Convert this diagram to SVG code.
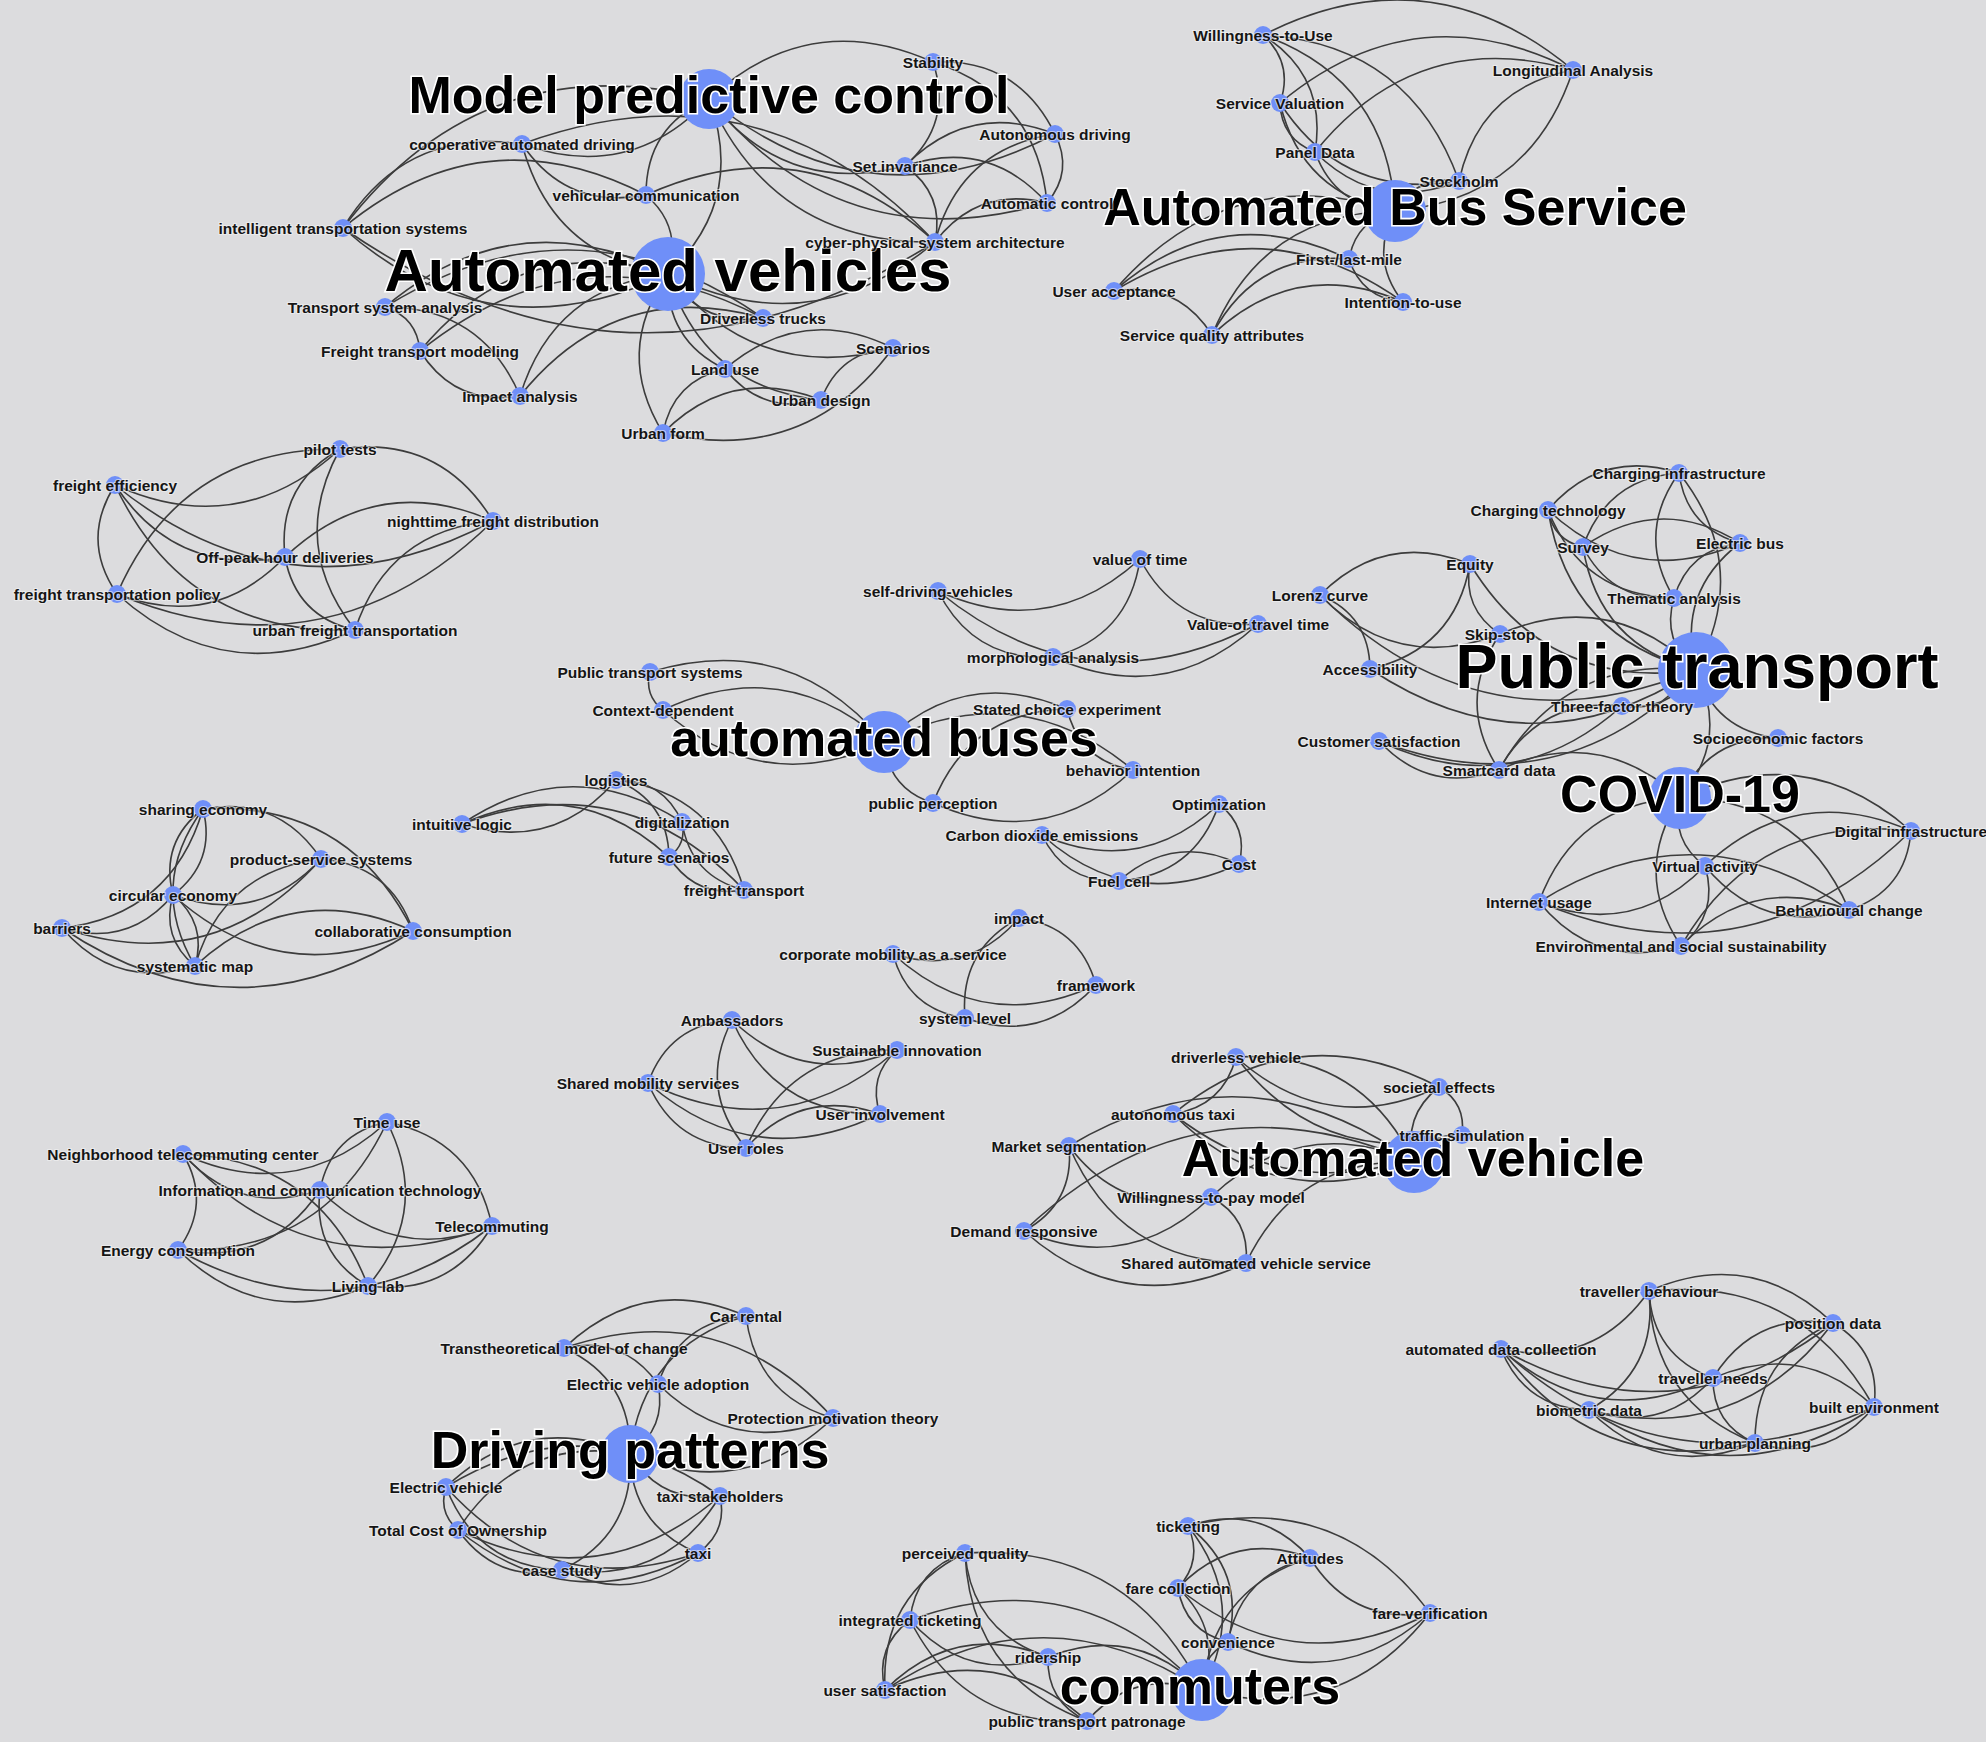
<svg xmlns="http://www.w3.org/2000/svg" width="1986" height="1742" viewBox="0 0 1986 1742">
<style>
#edges path{fill:none;stroke:#3c3c3c;stroke-width:1.6;vector-effect:non-scaling-stroke}
.nd circle{fill:#6f8ff8}
.nd text{font-family:"Liberation Sans",Arial,sans-serif;font-weight:bold;text-anchor:middle;dominant-baseline:central;paint-order:stroke}
.s{font-size:15.5px;fill:#151515;stroke:#f4f4f4;stroke-opacity:.6;stroke-width:2.2}
.b{fill:#000;stroke:#fff;stroke-width:3.2}
</style>
<rect width="1986" height="1742" fill="#dcdcde"/>
<g id="edges">
<path d="M0 0Q.5 .33 1 0" transform="matrix(-224 37 -37 -224 933 62)"/>
<path d="M0 0Q.5 .33 1 0" transform="matrix(346 35 -35 346 709 99)"/>
<path d="M0 0Q.5 .33 1 0" transform="matrix(196 67 -67 196 709 99)"/>
<path d="M0 0Q.5 .33 1 0" transform="matrix(226 143 -143 226 709 99)"/>
<path d="M0 0Q.5 .33 1 0" transform="matrix(338 104 -104 338 709 99)"/>
<path d="M0 0Q.5 .33 1 0" transform="matrix(28 -104 104 28 905 166)"/>
<path d="M0 0Q.5 .33 1 0" transform="matrix(-122 -72 72 -122 1055 134)"/>
<path d="M0 0Q.5 .33 1 0" transform="matrix(-114 -141 141 -114 1047 203)"/>
<path d="M0 0Q.5 .33 1 0" transform="matrix(-150 32 -32 -150 1055 134)"/>
<path d="M0 0Q.5 .33 1 0" transform="matrix(-142 -37 37 -142 1047 203)"/>
<path d="M0 0Q.5 .33 1 0" transform="matrix(-30 -76 76 -30 935 242)"/>
<path d="M0 0Q.5 .33 1 0" transform="matrix(8 -69 69 8 1047 203)"/>
<path d="M0 0Q.5 .33 1 0" transform="matrix(-120 108 -108 -120 1055 134)"/>
<path d="M0 0Q.5 .33 1 0" transform="matrix(-112 39 -39 -112 1047 203)"/>
<path d="M0 0Q.5 .33 1 0" transform="matrix(-179 84 -84 -179 522 144)"/>
<path d="M0 0Q.5 .33 1 0" transform="matrix(-366 129 -129 -366 709 99)"/>
<path d="M0 0Q.5 .33 1 0" transform="matrix(-303 33 -33 -303 646 195)"/>
<path d="M0 0Q.5 .33 1 0" transform="matrix(325 46 -46 325 343 228)"/>
<path d="M0 0Q.5 .33 1 0" transform="matrix(592 14 -14 592 343 228)"/>
<path d="M0 0Q.5 .33 1 0" transform="matrix(124 51 -51 124 522 144)"/>
<path d="M0 0Q.5 .33 1 0" transform="matrix(187 -45 45 187 522 144)"/>
<path d="M0 0Q.5 .33 1 0" transform="matrix(146 130 -130 146 522 144)"/>
<path d="M0 0Q.5 .33 1 0" transform="matrix(-413 -98 98 -413 935 242)"/>
<path d="M0 0Q.5 .33 1 0" transform="matrix(-63 96 -96 -63 709 99)"/>
<path d="M0 0Q.5 .33 1 0" transform="matrix(-22 -79 79 -22 668 274)"/>
<path d="M0 0Q.5 .33 1 0" transform="matrix(-289 -47 47 -289 935 242)"/>
<path d="M0 0Q.5 .33 1 0" transform="matrix(41 -175 175 41 668 274)"/>
<path d="M0 0Q.5 .33 1 0" transform="matrix(267 -32 32 267 668 274)"/>
<path d="M0 0Q.5 .33 1 0" transform="matrix(-283 33 -33 -283 668 274)"/>
<path d="M0 0Q.5 .33 1 0" transform="matrix(-248 77 -77 -248 668 274)"/>
<path d="M0 0Q.5 .33 1 0" transform="matrix(-148 122 -122 -148 668 274)"/>
<path d="M0 0Q.5 .33 1 0" transform="matrix(-243 78 -78 -243 763 318)"/>
<path d="M0 0Q.5 .33 1 0" transform="matrix(-35 -44 44 -35 420 351)"/>
<path d="M0 0Q.5 .33 1 0" transform="matrix(-135 -89 89 -135 520 396)"/>
<path d="M0 0Q.5 .33 1 0" transform="matrix(100 45 -45 100 420 351)"/>
<path d="M0 0Q.5 .33 1 0" transform="matrix(-378 -11 11 -378 763 318)"/>
<path d="M0 0Q.5 .33 1 0" transform="matrix(-343 33 -33 -343 763 318)"/>
<path d="M0 0Q.5 .33 1 0" transform="matrix(95 44 -44 95 668 274)"/>
<path d="M0 0Q.5 .33 1 0" transform="matrix(57 95 -95 57 668 274)"/>
<path d="M0 0Q.5 .33 1 0" transform="matrix(-5 159 -159 -5 668 274)"/>
<path d="M0 0Q.5 .33 1 0" transform="matrix(153 126 -126 153 668 274)"/>
<path d="M0 0Q.5 .33 1 0" transform="matrix(225 74 -74 225 668 274)"/>
<path d="M0 0Q.5 .33 1 0" transform="matrix(-62 64 -64 -62 725 369)"/>
<path d="M0 0Q.5 .33 1 0" transform="matrix(96 31 -31 96 725 369)"/>
<path d="M0 0Q.5 .33 1 0" transform="matrix(-168 21 -21 -168 893 348)"/>
<path d="M0 0Q.5 .33 1 0" transform="matrix(-158 33 -33 -158 821 400)"/>
<path d="M0 0Q.5 .33 1 0" transform="matrix(230 -85 85 230 663 433)"/>
<path d="M0 0Q.5 .33 1 0" transform="matrix(-72 52 -52 -72 893 348)"/>
<path d="M0 0Q.5 .33 1 0" transform="matrix(-310 -35 35 -310 1573 70)"/>
<path d="M0 0Q.5 .33 1 0" transform="matrix(-17 -68 68 -17 1280 103)"/>
<path d="M0 0Q.5 .33 1 0" transform="matrix(-52 -117 117 -52 1315 152)"/>
<path d="M0 0Q.5 .33 1 0" transform="matrix(-196 -146 146 -196 1459 181)"/>
<path d="M0 0Q.5 .33 1 0" transform="matrix(-132 -176 176 -132 1395 211)"/>
<path d="M0 0Q.5 .33 1 0" transform="matrix(-293 33 -33 -293 1573 70)"/>
<path d="M0 0Q.5 .33 1 0" transform="matrix(-258 82 -82 -258 1573 70)"/>
<path d="M0 0Q.5 .33 1 0" transform="matrix(-114 111 -111 -114 1573 70)"/>
<path d="M0 0Q.5 .33 1 0" transform="matrix(178 -141 141 178 1395 211)"/>
<path d="M0 0Q.5 .33 1 0" transform="matrix(35 49 -49 35 1280 103)"/>
<path d="M0 0Q.5 .33 1 0" transform="matrix(179 78 -78 179 1280 103)"/>
<path d="M0 0Q.5 .33 1 0" transform="matrix(115 108 -108 115 1280 103)"/>
<path d="M0 0Q.5 .33 1 0" transform="matrix(144 29 -29 144 1315 152)"/>
<path d="M0 0Q.5 .33 1 0" transform="matrix(80 59 -59 80 1315 152)"/>
<path d="M0 0Q.5 .33 1 0" transform="matrix(-64 30 -30 -64 1459 181)"/>
<path d="M0 0Q.5 .33 1 0" transform="matrix(-281 80 -80 -281 1395 211)"/>
<path d="M0 0Q.5 .33 1 0" transform="matrix(-183 124 -124 -183 1395 211)"/>
<path d="M0 0Q.5 .33 1 0" transform="matrix(-46 48 -48 -46 1395 211)"/>
<path d="M0 0Q.5 .33 1 0" transform="matrix(8 91 -91 8 1395 211)"/>
<path d="M0 0Q.5 .33 1 0" transform="matrix(-98 -44 44 -98 1212 335)"/>
<path d="M0 0Q.5 .33 1 0" transform="matrix(-235 32 -32 -235 1349 259)"/>
<path d="M0 0Q.5 .33 1 0" transform="matrix(-289 -11 11 -289 1403 302)"/>
<path d="M0 0Q.5 .33 1 0" transform="matrix(-137 76 -76 -137 1349 259)"/>
<path d="M0 0Q.5 .33 1 0" transform="matrix(-191 33 -33 -191 1403 302)"/>
<path d="M0 0Q.5 .33 1 0" transform="matrix(54 43 -43 54 1349 259)"/>
<path d="M0 0Q.5 .33 1 0" transform="matrix(225 -36 36 225 115 485)"/>
<path d="M0 0Q.5 .33 1 0" transform="matrix(378 36 -36 378 115 485)"/>
<path d="M0 0Q.5 .33 1 0" transform="matrix(170 72 -72 170 115 485)"/>
<path d="M0 0Q.5 .33 1 0" transform="matrix(2 109 -109 2 115 485)"/>
<path d="M0 0Q.5 .33 1 0" transform="matrix(240 145 -145 240 115 485)"/>
<path d="M0 0Q.5 .33 1 0" transform="matrix(-153 -72 72 -153 493 521)"/>
<path d="M0 0Q.5 .33 1 0" transform="matrix(-55 108 -108 -55 340 449)"/>
<path d="M0 0Q.5 .33 1 0" transform="matrix(-223 145 -145 -223 340 449)"/>
<path d="M0 0Q.5 .33 1 0" transform="matrix(15 181 -181 15 340 449)"/>
<path d="M0 0Q.5 .33 1 0" transform="matrix(-208 36 -36 -208 493 521)"/>
<path d="M0 0Q.5 .33 1 0" transform="matrix(376 -73 73 376 117 594)"/>
<path d="M0 0Q.5 .33 1 0" transform="matrix(-138 109 -109 -138 493 521)"/>
<path d="M0 0Q.5 .33 1 0" transform="matrix(168 -37 37 168 117 594)"/>
<path d="M0 0Q.5 .33 1 0" transform="matrix(70 73 -73 70 285 557)"/>
<path d="M0 0Q.5 .33 1 0" transform="matrix(238 36 -36 238 117 594)"/>
<path d="M0 0Q.5 .33 1 0" transform="matrix(-131 37 -37 -131 1679 473)"/>
<path d="M0 0Q.5 .33 1 0" transform="matrix(-96 74 -74 -96 1679 473)"/>
<path d="M0 0Q.5 .33 1 0" transform="matrix(61 70 -70 61 1679 473)"/>
<path d="M0 0Q.5 .33 1 0" transform="matrix(-5 125 -125 -5 1679 473)"/>
<path d="M0 0Q.5 .33 1 0" transform="matrix(-17 -197 197 -17 1696 670)"/>
<path d="M0 0Q.5 .33 1 0" transform="matrix(35 37 -37 35 1548 510)"/>
<path d="M0 0Q.5 .33 1 0" transform="matrix(192 33 -33 192 1548 510)"/>
<path d="M0 0Q.5 .33 1 0" transform="matrix(126 88 -88 126 1548 510)"/>
<path d="M0 0Q.5 .33 1 0" transform="matrix(148 160 -160 148 1548 510)"/>
<path d="M0 0Q.5 .33 1 0" transform="matrix(-157 4 -4 -157 1740 543)"/>
<path d="M0 0Q.5 .33 1 0" transform="matrix(91 51 -51 91 1583 547)"/>
<path d="M0 0Q.5 .33 1 0" transform="matrix(113 123 -123 113 1583 547)"/>
<path d="M0 0Q.5 .33 1 0" transform="matrix(-66 55 -55 -66 1740 543)"/>
<path d="M0 0Q.5 .33 1 0" transform="matrix(-44 127 -127 -44 1740 543)"/>
<path d="M0 0Q.5 .33 1 0" transform="matrix(22 72 -72 22 1674 598)"/>
<path d="M0 0Q.5 .33 1 0" transform="matrix(-150 31 -31 -150 1470 564)"/>
<path d="M0 0Q.5 .33 1 0" transform="matrix(-50 -74 74 -50 1370 669)"/>
<path d="M0 0Q.5 .33 1 0" transform="matrix(376 75 -75 376 1320 595)"/>
<path d="M0 0Q.5 .33 1 0" transform="matrix(100 -105 105 100 1370 669)"/>
<path d="M0 0Q.5 .33 1 0" transform="matrix(226 106 -106 226 1470 564)"/>
<path d="M0 0Q.5 .33 1 0" transform="matrix(326 1 -1 326 1370 669)"/>
<path d="M0 0Q.5 .33 1 0" transform="matrix(30 70 -70 30 1470 564)"/>
<path d="M0 0Q.5 .33 1 0" transform="matrix(-196 -36 36 -196 1696 670)"/>
<path d="M0 0Q.5 .33 1 0" transform="matrix(-1 136 -136 -1 1500 634)"/>
<path d="M0 0Q.5 .33 1 0" transform="matrix(-197 100 -100 -197 1696 670)"/>
<path d="M0 0Q.5 .33 1 0" transform="matrix(180 39 -39 180 1320 595)"/>
<path d="M0 0Q.5 .33 1 0" transform="matrix(120 29 -29 120 1379 741)"/>
<path d="M0 0Q.5 .33 1 0" transform="matrix(243 -35 35 243 1379 741)"/>
<path d="M0 0Q.5 .33 1 0" transform="matrix(317 -71 71 317 1379 741)"/>
<path d="M0 0Q.5 .33 1 0" transform="matrix(74 -36 36 74 1622 706)"/>
<path d="M0 0Q.5 .33 1 0" transform="matrix(-123 64 -64 -123 1622 706)"/>
<path d="M0 0Q.5 .33 1 0" transform="matrix(16 -128 128 16 1680 798)"/>
<path d="M0 0Q.5 .33 1 0" transform="matrix(82 68 -68 82 1696 670)"/>
<path d="M0 0Q.5 .33 1 0" transform="matrix(-98 60 -60 -98 1778 738)"/>
<path d="M0 0Q.5 .33 1 0" transform="matrix(-181 -28 28 -181 1680 798)"/>
<path d="M0 0Q.5 .33 1 0" transform="matrix(-231 -33 33 -231 1911 831)"/>
<path d="M0 0Q.5 .33 1 0" transform="matrix(25 68 -68 25 1680 798)"/>
<path d="M0 0Q.5 .33 1 0" transform="matrix(-141 104 -104 -141 1680 798)"/>
<path d="M0 0Q.5 .33 1 0" transform="matrix(-169 -112 112 -169 1849 910)"/>
<path d="M0 0Q.5 .33 1 0" transform="matrix(1 148 -148 1 1680 798)"/>
<path d="M0 0Q.5 .33 1 0" transform="matrix(-206 35 -35 -206 1911 831)"/>
<path d="M0 0Q.5 .33 1 0" transform="matrix(372 -71 71 372 1539 902)"/>
<path d="M0 0Q.5 .33 1 0" transform="matrix(62 -79 79 62 1849 910)"/>
<path d="M0 0Q.5 .33 1 0" transform="matrix(-230 115 -115 -230 1911 831)"/>
<path d="M0 0Q.5 .33 1 0" transform="matrix(166 -36 36 166 1539 902)"/>
<path d="M0 0Q.5 .33 1 0" transform="matrix(144 44 -44 144 1705 866)"/>
<path d="M0 0Q.5 .33 1 0" transform="matrix(24 -80 80 24 1681 946)"/>
<path d="M0 0Q.5 .33 1 0" transform="matrix(-310 -8 8 -310 1849 910)"/>
<path d="M0 0Q.5 .33 1 0" transform="matrix(142 44 -44 142 1539 902)"/>
<path d="M0 0Q.5 .33 1 0" transform="matrix(-168 36 -36 -168 1849 910)"/>
<path d="M0 0Q.5 .33 1 0" transform="matrix(202 -32 32 202 938 591)"/>
<path d="M0 0Q.5 .33 1 0" transform="matrix(115 66 -66 115 938 591)"/>
<path d="M0 0Q.5 .33 1 0" transform="matrix(320 33 -33 320 938 591)"/>
<path d="M0 0Q.5 .33 1 0" transform="matrix(87 -98 98 87 1053 657)"/>
<path d="M0 0Q.5 .33 1 0" transform="matrix(118 65 -65 118 1140 559)"/>
<path d="M0 0Q.5 .33 1 0" transform="matrix(205 -33 33 205 1053 657)"/>
<path d="M0 0Q.5 .33 1 0" transform="matrix(13 38 -38 13 650 672)"/>
<path d="M0 0Q.5 .33 1 0" transform="matrix(-234 -70 70 -234 884 742)"/>
<path d="M0 0Q.5 .33 1 0" transform="matrix(-221 -32 32 -221 884 742)"/>
<path d="M0 0Q.5 .33 1 0" transform="matrix(221 32 -32 221 663 710)"/>
<path d="M0 0Q.5 .33 1 0" transform="matrix(-183 33 -33 -183 1067 709)"/>
<path d="M0 0Q.5 .33 1 0" transform="matrix(-249 -28 28 -249 1133 770)"/>
<path d="M0 0Q.5 .33 1 0" transform="matrix(200 -33 33 200 933 803)"/>
<path d="M0 0Q.5 .33 1 0" transform="matrix(49 61 -61 49 884 742)"/>
<path d="M0 0Q.5 .33 1 0" transform="matrix(-134 94 -94 -134 1067 709)"/>
<path d="M0 0Q.5 .33 1 0" transform="matrix(66 61 -61 66 1067 709)"/>
<path d="M0 0Q.5 .33 1 0" transform="matrix(154 -44 44 154 462 824)"/>
<path d="M0 0Q.5 .33 1 0" transform="matrix(-220 2 -2 -220 682 822)"/>
<path d="M0 0Q.5 .33 1 0" transform="matrix(-207 -33 33 -207 669 857)"/>
<path d="M0 0Q.5 .33 1 0" transform="matrix(-282 -66 66 -282 744 890)"/>
<path d="M0 0Q.5 .33 1 0" transform="matrix(-66 -42 42 -66 682 822)"/>
<path d="M0 0Q.5 .33 1 0" transform="matrix(-53 -77 77 -53 669 857)"/>
<path d="M0 0Q.5 .33 1 0" transform="matrix(-128 -110 110 -128 744 890)"/>
<path d="M0 0Q.5 .33 1 0" transform="matrix(13 -35 35 13 669 857)"/>
<path d="M0 0Q.5 .33 1 0" transform="matrix(62 68 -68 62 682 822)"/>
<path d="M0 0Q.5 .33 1 0" transform="matrix(75 33 -33 75 669 857)"/>
<path d="M0 0Q.5 .33 1 0" transform="matrix(177 -31 31 177 1042 835)"/>
<path d="M0 0Q.5 .33 1 0" transform="matrix(100 -77 77 100 1119 881)"/>
<path d="M0 0Q.5 .33 1 0" transform="matrix(-20 -60 60 -20 1239 864)"/>
<path d="M0 0Q.5 .33 1 0" transform="matrix(77 46 -46 77 1042 835)"/>
<path d="M0 0Q.5 .33 1 0" transform="matrix(197 29 -29 197 1042 835)"/>
<path d="M0 0Q.5 .33 1 0" transform="matrix(-120 17 -17 -120 1239 864)"/>
<path d="M0 0Q.5 .33 1 0" transform="matrix(126 -36 36 126 893 954)"/>
<path d="M0 0Q.5 .33 1 0" transform="matrix(203 31 -31 203 893 954)"/>
<path d="M0 0Q.5 .33 1 0" transform="matrix(72 64 -64 72 893 954)"/>
<path d="M0 0Q.5 .33 1 0" transform="matrix(-54 100 -100 -54 1019 918)"/>
<path d="M0 0Q.5 .33 1 0" transform="matrix(-77 -67 67 -77 1096 985)"/>
<path d="M0 0Q.5 .33 1 0" transform="matrix(131 -33 33 131 965 1018)"/>
<path d="M0 0Q.5 .33 1 0" transform="matrix(-118 -50 50 -118 321 859)"/>
<path d="M0 0Q.5 .33 1 0" transform="matrix(-210 -122 122 -210 413 931)"/>
<path d="M0 0Q.5 .33 1 0" transform="matrix(-30 86 -86 -30 203 809)"/>
<path d="M0 0Q.5 .33 1 0" transform="matrix(141 -119 119 141 62 928)"/>
<path d="M0 0Q.5 .33 1 0" transform="matrix(-8 157 -157 -8 203 809)"/>
<path d="M0 0Q.5 .33 1 0" transform="matrix(148 -36 36 148 173 895)"/>
<path d="M0 0Q.5 .33 1 0" transform="matrix(259 -69 69 259 62 928)"/>
<path d="M0 0Q.5 .33 1 0" transform="matrix(-92 -72 72 -92 413 931)"/>
<path d="M0 0Q.5 .33 1 0" transform="matrix(-126 107 -107 -126 321 859)"/>
<path d="M0 0Q.5 .33 1 0" transform="matrix(111 -33 33 111 62 928)"/>
<path d="M0 0Q.5 .33 1 0" transform="matrix(240 36 -36 240 173 895)"/>
<path d="M0 0Q.5 .33 1 0" transform="matrix(22 71 -71 22 173 895)"/>
<path d="M0 0Q.5 .33 1 0" transform="matrix(351 3 -3 351 62 928)"/>
<path d="M0 0Q.5 .33 1 0" transform="matrix(133 38 -38 133 62 928)"/>
<path d="M0 0Q.5 .33 1 0" transform="matrix(-218 35 -35 -218 413 931)"/>
<path d="M0 0Q.5 .33 1 0" transform="matrix(30 -86 86 30 173 895)"/>
<path d="M0 0Q.5 .33 1 0" transform="matrix(-22 -71 71 -22 195 966)"/>
<path d="M0 0Q.5 .33 1 0" transform="matrix(165 30 -30 165 732 1020)"/>
<path d="M0 0Q.5 .33 1 0" transform="matrix(-84 63 -63 -84 732 1020)"/>
<path d="M0 0Q.5 .33 1 0" transform="matrix(148 94 -94 148 732 1020)"/>
<path d="M0 0Q.5 .33 1 0" transform="matrix(14 128 -128 14 732 1020)"/>
<path d="M0 0Q.5 .33 1 0" transform="matrix(249 -33 33 249 648 1083)"/>
<path d="M0 0Q.5 .33 1 0" transform="matrix(-17 64 -64 -17 897 1050)"/>
<path d="M0 0Q.5 .33 1 0" transform="matrix(-151 98 -98 -151 897 1050)"/>
<path d="M0 0Q.5 .33 1 0" transform="matrix(232 31 -31 232 648 1083)"/>
<path d="M0 0Q.5 .33 1 0" transform="matrix(98 65 -65 98 648 1083)"/>
<path d="M0 0Q.5 .33 1 0" transform="matrix(-134 34 -34 -134 880 1114)"/>
<path d="M0 0Q.5 .33 1 0" transform="matrix(204 -32 32 204 183 1154)"/>
<path d="M0 0Q.5 .33 1 0" transform="matrix(-67 68 -68 -67 387 1122)"/>
<path d="M0 0Q.5 .33 1 0" transform="matrix(-105 -104 104 -105 492 1226)"/>
<path d="M0 0Q.5 .33 1 0" transform="matrix(209 -128 128 209 178 1250)"/>
<path d="M0 0Q.5 .33 1 0" transform="matrix(19 -164 164 19 368 1286)"/>
<path d="M0 0Q.5 .33 1 0" transform="matrix(137 36 -36 137 183 1154)"/>
<path d="M0 0Q.5 .33 1 0" transform="matrix(309 72 -72 309 183 1154)"/>
<path d="M0 0Q.5 .33 1 0" transform="matrix(5 -96 96 5 178 1250)"/>
<path d="M0 0Q.5 .33 1 0" transform="matrix(-185 -132 132 -185 368 1286)"/>
<path d="M0 0Q.5 .33 1 0" transform="matrix(172 36 -36 172 320 1190)"/>
<path d="M0 0Q.5 .33 1 0" transform="matrix(142 -60 60 142 178 1250)"/>
<path d="M0 0Q.5 .33 1 0" transform="matrix(48 96 -96 48 320 1190)"/>
<path d="M0 0Q.5 .33 1 0" transform="matrix(314 -24 24 314 178 1250)"/>
<path d="M0 0Q.5 .33 1 0" transform="matrix(124 -60 60 124 368 1286)"/>
<path d="M0 0Q.5 .33 1 0" transform="matrix(190 36 -36 190 178 1250)"/>
<path d="M0 0Q.5 .33 1 0" transform="matrix(203 30 -30 203 1236 1057)"/>
<path d="M0 0Q.5 .33 1 0" transform="matrix(63 -57 57 63 1173 1114)"/>
<path d="M0 0Q.5 .33 1 0" transform="matrix(226 78 -78 226 1236 1057)"/>
<path d="M0 0Q.5 .33 1 0" transform="matrix(-178 -105 105 -178 1414 1162)"/>
<path d="M0 0Q.5 .33 1 0" transform="matrix(-266 27 -27 -266 1439 1087)"/>
<path d="M0 0Q.5 .33 1 0" transform="matrix(289 21 -21 289 1173 1114)"/>
<path d="M0 0Q.5 .33 1 0" transform="matrix(241 48 -48 241 1173 1114)"/>
<path d="M0 0Q.5 .33 1 0" transform="matrix(-23 -48 48 -23 1462 1135)"/>
<path d="M0 0Q.5 .33 1 0" transform="matrix(-25 75 -75 -25 1439 1087)"/>
<path d="M0 0Q.5 .33 1 0" transform="matrix(-48 27 -27 -48 1462 1135)"/>
<path d="M0 0Q.5 .33 1 0" transform="matrix(-345 -16 16 -345 1414 1162)"/>
<path d="M0 0Q.5 .33 1 0" transform="matrix(142 51 -51 142 1069 1146)"/>
<path d="M0 0Q.5 .33 1 0" transform="matrix(45 -85 85 45 1024 1231)"/>
<path d="M0 0Q.5 .33 1 0" transform="matrix(177 117 -117 177 1069 1146)"/>
<path d="M0 0Q.5 .33 1 0" transform="matrix(-203 35 -35 -203 1414 1162)"/>
<path d="M0 0Q.5 .33 1 0" transform="matrix(187 -34 34 187 1024 1231)"/>
<path d="M0 0Q.5 .33 1 0" transform="matrix(-35 -66 66 -35 1246 1263)"/>
<path d="M0 0Q.5 .33 1 0" transform="matrix(222 32 -32 222 1024 1231)"/>
<path d="M0 0Q.5 .33 1 0" transform="matrix(-168 101 -101 -168 1414 1162)"/>
<path d="M0 0Q.5 .33 1 0" transform="matrix(-390 69 -69 -390 1414 1162)"/>
<path d="M0 0Q.5 .33 1 0" transform="matrix(-182 32 -32 -182 746 1316)"/>
<path d="M0 0Q.5 .33 1 0" transform="matrix(-269 -70 70 -269 833 1418)"/>
<path d="M0 0Q.5 .33 1 0" transform="matrix(-94 -36 36 -94 658 1384)"/>
<path d="M0 0Q.5 .33 1 0" transform="matrix(-66 -106 106 -66 630 1454)"/>
<path d="M0 0Q.5 .33 1 0" transform="matrix(-88 68 -68 -88 746 1316)"/>
<path d="M0 0Q.5 .33 1 0" transform="matrix(87 102 -102 87 746 1316)"/>
<path d="M0 0Q.5 .33 1 0" transform="matrix(-116 138 -138 -116 746 1316)"/>
<path d="M0 0Q.5 .33 1 0" transform="matrix(175 34 -34 175 658 1384)"/>
<path d="M0 0Q.5 .33 1 0" transform="matrix(28 -70 70 28 630 1454)"/>
<path d="M0 0Q.5 .33 1 0" transform="matrix(203 -36 36 203 630 1454)"/>
<path d="M0 0Q.5 .33 1 0" transform="matrix(-184 33 -33 -184 630 1454)"/>
<path d="M0 0Q.5 .33 1 0" transform="matrix(-172 76 -76 -172 630 1454)"/>
<path d="M0 0Q.5 .33 1 0" transform="matrix(90 42 -42 90 630 1454)"/>
<path d="M0 0Q.5 .33 1 0" transform="matrix(68 99 -99 68 630 1454)"/>
<path d="M0 0Q.5 .33 1 0" transform="matrix(68 -116 116 68 562 1570)"/>
<path d="M0 0Q.5 .33 1 0" transform="matrix(12 43 -43 12 446 1487)"/>
<path d="M0 0Q.5 .33 1 0" transform="matrix(-274 -9 9 -274 720 1496)"/>
<path d="M0 0Q.5 .33 1 0" transform="matrix(252 66 -66 252 446 1487)"/>
<path d="M0 0Q.5 .33 1 0" transform="matrix(116 83 -83 116 446 1487)"/>
<path d="M0 0Q.5 .33 1 0" transform="matrix(262 -34 34 262 458 1530)"/>
<path d="M0 0Q.5 .33 1 0" transform="matrix(240 23 -23 240 458 1530)"/>
<path d="M0 0Q.5 .33 1 0" transform="matrix(104 40 -40 104 458 1530)"/>
<path d="M0 0Q.5 .33 1 0" transform="matrix(22 -57 57 22 698 1553)"/>
<path d="M0 0Q.5 .33 1 0" transform="matrix(158 -74 74 158 562 1570)"/>
<path d="M0 0Q.5 .33 1 0" transform="matrix(136 -17 17 136 562 1570)"/>
<path d="M0 0Q.5 .33 1 0" transform="matrix(-55 67 -67 -55 965 1553)"/>
<path d="M0 0Q.5 .33 1 0" transform="matrix(-80 137 -137 -80 965 1553)"/>
<path d="M0 0Q.5 .33 1 0" transform="matrix(83 104 -104 83 965 1553)"/>
<path d="M0 0Q.5 .33 1 0" transform="matrix(122 168 -168 122 965 1553)"/>
<path d="M0 0Q.5 .33 1 0" transform="matrix(-237 -137 137 -237 1202 1690)"/>
<path d="M0 0Q.5 .33 1 0" transform="matrix(-25 70 -70 -25 910 1620)"/>
<path d="M0 0Q.5 .33 1 0" transform="matrix(138 37 -37 138 910 1620)"/>
<path d="M0 0Q.5 .33 1 0" transform="matrix(177 101 -101 177 910 1620)"/>
<path d="M0 0Q.5 .33 1 0" transform="matrix(-292 -70 70 -292 1202 1690)"/>
<path d="M0 0Q.5 .33 1 0" transform="matrix(-163 33 -33 -163 1048 1657)"/>
<path d="M0 0Q.5 .33 1 0" transform="matrix(-202 -31 31 -202 1087 1721)"/>
<path d="M0 0Q.5 .33 1 0" transform="matrix(-317 0 0 -317 1202 1690)"/>
<path d="M0 0Q.5 .33 1 0" transform="matrix(39 64 -64 39 1048 1657)"/>
<path d="M0 0Q.5 .33 1 0" transform="matrix(-154 -33 33 -154 1202 1690)"/>
<path d="M0 0Q.5 .33 1 0" transform="matrix(-115 31 -31 -115 1202 1690)"/>
<path d="M0 0Q.5 .33 1 0" transform="matrix(-122 -32 32 -122 1310 1558)"/>
<path d="M0 0Q.5 .33 1 0" transform="matrix(-242 -87 87 -242 1430 1613)"/>
<path d="M0 0Q.5 .33 1 0" transform="matrix(10 -62 62 10 1178 1588)"/>
<path d="M0 0Q.5 .33 1 0" transform="matrix(-40 -116 116 -40 1228 1642)"/>
<path d="M0 0Q.5 .33 1 0" transform="matrix(-14 -164 164 -14 1202 1690)"/>
<path d="M0 0Q.5 .33 1 0" transform="matrix(-132 30 -30 -132 1310 1558)"/>
<path d="M0 0Q.5 .33 1 0" transform="matrix(252 25 -25 252 1178 1588)"/>
<path d="M0 0Q.5 .33 1 0" transform="matrix(50 54 -54 50 1178 1588)"/>
<path d="M0 0Q.5 .33 1 0" transform="matrix(-24 -102 102 -24 1202 1690)"/>
<path d="M0 0Q.5 .33 1 0" transform="matrix(120 55 -55 120 1310 1558)"/>
<path d="M0 0Q.5 .33 1 0" transform="matrix(-82 84 -84 -82 1310 1558)"/>
<path d="M0 0Q.5 .33 1 0" transform="matrix(-108 132 -132 -108 1310 1558)"/>
<path d="M0 0Q.5 .33 1 0" transform="matrix(202 -29 29 202 1228 1642)"/>
<path d="M0 0Q.5 .33 1 0" transform="matrix(228 -77 77 228 1202 1690)"/>
<path d="M0 0Q.5 .33 1 0" transform="matrix(-26 48 -48 -26 1228 1642)"/>
<path d="M0 0Q.5 .33 1 0" transform="matrix(148 -58 58 148 1501 1349)"/>
<path d="M0 0Q.5 .33 1 0" transform="matrix(-184 -32 32 -184 1833 1323)"/>
<path d="M0 0Q.5 .33 1 0" transform="matrix(64 87 -87 64 1649 1291)"/>
<path d="M0 0Q.5 .33 1 0" transform="matrix(60 -119 119 60 1589 1410)"/>
<path d="M0 0Q.5 .33 1 0" transform="matrix(-225 -116 116 -225 1874 1407)"/>
<path d="M0 0Q.5 .33 1 0" transform="matrix(106 152 -152 106 1649 1291)"/>
<path d="M0 0Q.5 .33 1 0" transform="matrix(332 -26 26 332 1501 1349)"/>
<path d="M0 0Q.5 .33 1 0" transform="matrix(212 29 -29 212 1501 1349)"/>
<path d="M0 0Q.5 .33 1 0" transform="matrix(88 61 -61 88 1501 1349)"/>
<path d="M0 0Q.5 .33 1 0" transform="matrix(373 58 -58 373 1501 1349)"/>
<path d="M0 0Q.5 .33 1 0" transform="matrix(254 94 -94 254 1501 1349)"/>
<path d="M0 0Q.5 .33 1 0" transform="matrix(-120 55 -55 -120 1833 1323)"/>
<path d="M0 0Q.5 .33 1 0" transform="matrix(244 -87 87 244 1589 1410)"/>
<path d="M0 0Q.5 .33 1 0" transform="matrix(-41 -84 84 -41 1874 1407)"/>
<path d="M0 0Q.5 .33 1 0" transform="matrix(-78 120 -120 -78 1833 1323)"/>
<path d="M0 0Q.5 .33 1 0" transform="matrix(124 -32 32 124 1589 1410)"/>
<path d="M0 0Q.5 .33 1 0" transform="matrix(-161 -29 29 -161 1874 1407)"/>
<path d="M0 0Q.5 .33 1 0" transform="matrix(42 65 -65 42 1713 1378)"/>
<path d="M0 0Q.5 .33 1 0" transform="matrix(285 -3 3 285 1589 1410)"/>
<path d="M0 0Q.5 .33 1 0" transform="matrix(166 33 -33 166 1589 1410)"/>
<path d="M0 0Q.5 .33 1 0" transform="matrix(119 -36 36 119 1755 1443)"/>
</g>
<g id="nodes">
<g id="n-mpc" class="nd"><circle cx="709" cy="99" r="30"/><text class="b" x="709" y="95" font-size="52">Model predictive control</text></g>
<g id="n-avs" class="nd"><circle cx="668" cy="274" r="37"/><text class="b" x="668" y="270" font-size="60">Automated vehicles</text></g>
<g id="n-abs" class="nd"><circle cx="1395" cy="211" r="31"/><text class="b" x="1395" y="207" font-size="52">Automated Bus Service</text></g>
<g id="n-pt" class="nd"><circle cx="1696" cy="670" r="38"/><text class="b" x="1697" y="666" font-size="63">Public transport</text></g>
<g id="n-ab" class="nd"><circle cx="884" cy="742" r="31"/><text class="b" x="884" y="738" font-size="52">automated buses</text></g>
<g id="n-cov" class="nd"><circle cx="1680" cy="798" r="31"/><text class="b" x="1680" y="794" font-size="52">COVID-19</text></g>
<g id="n-av1" class="nd"><circle cx="1414" cy="1162" r="31"/><text class="b" x="1413" y="1158" font-size="52">Automated vehicle</text></g>
<g id="n-dp" class="nd"><circle cx="630" cy="1454" r="29"/><text class="b" x="630" y="1450" font-size="52">Driving patterns</text></g>
<g id="n-cm" class="nd"><circle cx="1202" cy="1690" r="31"/><text class="b" x="1200" y="1686" font-size="52">commuters</text></g>
<g id="n-coop" class="nd"><circle cx="522" cy="144" r="9"/><text class="s" x="522" y="144">cooperative automated driving</text></g>
<g id="n-its" class="nd"><circle cx="343" cy="228" r="9"/><text class="s" x="343" y="228">intelligent transportation systems</text></g>
<g id="n-vc" class="nd"><circle cx="646" cy="195" r="9"/><text class="s" x="646" y="195">vehicular communication</text></g>
<g id="n-stab" class="nd"><circle cx="933" cy="62" r="9"/><text class="s" x="933" y="62">Stability</text></g>
<g id="n-si" class="nd"><circle cx="905" cy="166" r="9"/><text class="s" x="905" y="166">Set invariance</text></g>
<g id="n-ad" class="nd"><circle cx="1055" cy="134" r="9"/><text class="s" x="1055" y="134">Autonomous driving</text></g>
<g id="n-ac" class="nd"><circle cx="1047" cy="203" r="9"/><text class="s" x="1047" y="203">Automatic control</text></g>
<g id="n-cps" class="nd"><circle cx="935" cy="242" r="9"/><text class="s" x="935" y="242">cyber-physical system architecture</text></g>
<g id="n-tsa" class="nd"><circle cx="385" cy="307" r="9"/><text class="s" x="385" y="307">Transport system analysis</text></g>
<g id="n-ftm" class="nd"><circle cx="420" cy="351" r="9"/><text class="s" x="420" y="351">Freight transport modeling</text></g>
<g id="n-ia" class="nd"><circle cx="520" cy="396" r="9"/><text class="s" x="520" y="396">Impact analysis</text></g>
<g id="n-dt" class="nd"><circle cx="763" cy="318" r="9"/><text class="s" x="763" y="318">Driverless trucks</text></g>
<g id="n-sc" class="nd"><circle cx="893" cy="348" r="9"/><text class="s" x="893" y="348">Scenarios</text></g>
<g id="n-lu" class="nd"><circle cx="725" cy="369" r="9"/><text class="s" x="725" y="369">Land use</text></g>
<g id="n-ud" class="nd"><circle cx="821" cy="400" r="9"/><text class="s" x="821" y="400">Urban design</text></g>
<g id="n-uf" class="nd"><circle cx="663" cy="433" r="9"/><text class="s" x="663" y="433">Urban form</text></g>
<g id="n-wtu" class="nd"><circle cx="1263" cy="35" r="9"/><text class="s" x="1263" y="35">Willingness-to-Use</text></g>
<g id="n-la" class="nd"><circle cx="1573" cy="70" r="9"/><text class="s" x="1573" y="70">Longitudinal Analysis</text></g>
<g id="n-sv" class="nd"><circle cx="1280" cy="103" r="9"/><text class="s" x="1280" y="103">Service Valuation</text></g>
<g id="n-pd" class="nd"><circle cx="1315" cy="152" r="9"/><text class="s" x="1315" y="152">Panel Data</text></g>
<g id="n-sto" class="nd"><circle cx="1459" cy="181" r="9"/><text class="s" x="1459" y="181">Stockholm</text></g>
<g id="n-flm" class="nd"><circle cx="1349" cy="259" r="9"/><text class="s" x="1349" y="259">First-/last-mile</text></g>
<g id="n-itu" class="nd"><circle cx="1403" cy="302" r="9"/><text class="s" x="1403" y="302">Intention-to-use</text></g>
<g id="n-ua" class="nd"><circle cx="1114" cy="291" r="9"/><text class="s" x="1114" y="291">User acceptance</text></g>
<g id="n-sqa" class="nd"><circle cx="1212" cy="335" r="9"/><text class="s" x="1212" y="335">Service quality attributes</text></g>
<g id="n-pilot" class="nd"><circle cx="340" cy="449" r="9"/><text class="s" x="340" y="449">pilot tests</text></g>
<g id="n-fe" class="nd"><circle cx="115" cy="485" r="9"/><text class="s" x="115" y="485">freight efficiency</text></g>
<g id="n-nfd" class="nd"><circle cx="493" cy="521" r="9"/><text class="s" x="493" y="521">nighttime freight distribution</text></g>
<g id="n-ohd" class="nd"><circle cx="285" cy="557" r="9"/><text class="s" x="285" y="557">Off-peak hour deliveries</text></g>
<g id="n-ftp" class="nd"><circle cx="117" cy="594" r="9"/><text class="s" x="117" y="594">freight transportation policy</text></g>
<g id="n-uft" class="nd"><circle cx="355" cy="630" r="9"/><text class="s" x="355" y="630">urban freight transportation</text></g>
<g id="n-ci" class="nd"><circle cx="1679" cy="473" r="9"/><text class="s" x="1679" y="473">Charging infrastructure</text></g>
<g id="n-ct" class="nd"><circle cx="1548" cy="510" r="9"/><text class="s" x="1548" y="510">Charging technology</text></g>
<g id="n-su" class="nd"><circle cx="1583" cy="547" r="9"/><text class="s" x="1583" y="547">Survey</text></g>
<g id="n-eb" class="nd"><circle cx="1740" cy="543" r="9"/><text class="s" x="1740" y="543">Electric bus</text></g>
<g id="n-ta" class="nd"><circle cx="1674" cy="598" r="9"/><text class="s" x="1674" y="598">Thematic analysis</text></g>
<g id="n-lc" class="nd"><circle cx="1320" cy="595" r="9"/><text class="s" x="1320" y="595">Lorenz curve</text></g>
<g id="n-eq" class="nd"><circle cx="1470" cy="564" r="9"/><text class="s" x="1470" y="564">Equity</text></g>
<g id="n-ss" class="nd"><circle cx="1500" cy="634" r="9"/><text class="s" x="1500" y="634">Skip-stop</text></g>
<g id="n-acc" class="nd"><circle cx="1370" cy="669" r="9"/><text class="s" x="1370" y="669">Accessibility</text></g>
<g id="n-tft" class="nd"><circle cx="1622" cy="706" r="9"/><text class="s" x="1622" y="706">Three-factor theory</text></g>
<g id="n-cs" class="nd"><circle cx="1379" cy="741" r="9"/><text class="s" x="1379" y="741">Customer satisfaction</text></g>
<g id="n-sd" class="nd"><circle cx="1499" cy="770" r="9"/><text class="s" x="1499" y="770">Smartcard data</text></g>
<g id="n-sef" class="nd"><circle cx="1778" cy="738" r="9"/><text class="s" x="1778" y="738">Socioeconomic factors</text></g>
<g id="n-di" class="nd"><circle cx="1911" cy="831" r="9"/><text class="s" x="1911" y="831">Digital infrastructure</text></g>
<g id="n-va" class="nd"><circle cx="1705" cy="866" r="9"/><text class="s" x="1705" y="866">Virtual activity</text></g>
<g id="n-iu" class="nd"><circle cx="1539" cy="902" r="9"/><text class="s" x="1539" y="902">Internet usage</text></g>
<g id="n-bc" class="nd"><circle cx="1849" cy="910" r="9"/><text class="s" x="1849" y="910">Behavioural change</text></g>
<g id="n-ess" class="nd"><circle cx="1681" cy="946" r="9"/><text class="s" x="1681" y="946">Environmental and social sustainability</text></g>
<g id="n-sdv" class="nd"><circle cx="938" cy="591" r="9"/><text class="s" x="938" y="591">self-driving-vehicles</text></g>
<g id="n-vot" class="nd"><circle cx="1140" cy="559" r="9"/><text class="s" x="1140" y="559">value of time</text></g>
<g id="n-vott" class="nd"><circle cx="1258" cy="624" r="9"/><text class="s" x="1258" y="624">Value-of travel time</text></g>
<g id="n-ma" class="nd"><circle cx="1053" cy="657" r="9"/><text class="s" x="1053" y="657">morphological analysis</text></g>
<g id="n-pts" class="nd"><circle cx="650" cy="672" r="9"/><text class="s" x="650" y="672">Public transport systems</text></g>
<g id="n-cd" class="nd"><circle cx="663" cy="710" r="9"/><text class="s" x="663" y="710">Context-dependent</text></g>
<g id="n-sce" class="nd"><circle cx="1067" cy="709" r="9"/><text class="s" x="1067" y="709">Stated choice experiment</text></g>
<g id="n-bi" class="nd"><circle cx="1133" cy="770" r="9"/><text class="s" x="1133" y="770">behavior intention</text></g>
<g id="n-pp" class="nd"><circle cx="933" cy="803" r="9"/><text class="s" x="933" y="803">public perception</text></g>
<g id="n-lo" class="nd"><circle cx="616" cy="780" r="9"/><text class="s" x="616" y="780">logistics</text></g>
<g id="n-il" class="nd"><circle cx="462" cy="824" r="9"/><text class="s" x="462" y="824">intuitive logic</text></g>
<g id="n-dg" class="nd"><circle cx="682" cy="822" r="9"/><text class="s" x="682" y="822">digitalization</text></g>
<g id="n-fs" class="nd"><circle cx="669" cy="857" r="9"/><text class="s" x="669" y="857">future scenarios</text></g>
<g id="n-ft" class="nd"><circle cx="744" cy="890" r="9"/><text class="s" x="744" y="890">freight transport</text></g>
<g id="n-op" class="nd"><circle cx="1219" cy="804" r="9"/><text class="s" x="1219" y="804">Optimization</text></g>
<g id="n-cde" class="nd"><circle cx="1042" cy="835" r="9"/><text class="s" x="1042" y="835">Carbon dioxide emissions</text></g>
<g id="n-co" class="nd"><circle cx="1239" cy="864" r="9"/><text class="s" x="1239" y="864">Cost</text></g>
<g id="n-fc" class="nd"><circle cx="1119" cy="881" r="9"/><text class="s" x="1119" y="881">Fuel cell</text></g>
<g id="n-im" class="nd"><circle cx="1019" cy="918" r="9"/><text class="s" x="1019" y="918">impact</text></g>
<g id="n-cmaas" class="nd"><circle cx="893" cy="954" r="9"/><text class="s" x="893" y="954">corporate mobility as a service</text></g>
<g id="n-fw" class="nd"><circle cx="1096" cy="985" r="9"/><text class="s" x="1096" y="985">framework</text></g>
<g id="n-sl" class="nd"><circle cx="965" cy="1018" r="9"/><text class="s" x="965" y="1018">system level</text></g>
<g id="n-se" class="nd"><circle cx="203" cy="809" r="9"/><text class="s" x="203" y="809">sharing economy</text></g>
<g id="n-pss" class="nd"><circle cx="321" cy="859" r="9"/><text class="s" x="321" y="859">product-service systems</text></g>
<g id="n-ce" class="nd"><circle cx="173" cy="895" r="9"/><text class="s" x="173" y="895">circular economy</text></g>
<g id="n-ba" class="nd"><circle cx="62" cy="928" r="9"/><text class="s" x="62" y="928">barriers</text></g>
<g id="n-cc" class="nd"><circle cx="413" cy="931" r="9"/><text class="s" x="413" y="931">collaborative consumption</text></g>
<g id="n-sm" class="nd"><circle cx="195" cy="966" r="9"/><text class="s" x="195" y="966">systematic map</text></g>
<g id="n-amb" class="nd"><circle cx="732" cy="1020" r="9"/><text class="s" x="732" y="1020">Ambassadors</text></g>
<g id="n-sin" class="nd"><circle cx="897" cy="1050" r="9"/><text class="s" x="897" y="1050">Sustainable innovation</text></g>
<g id="n-sms" class="nd"><circle cx="648" cy="1083" r="9"/><text class="s" x="648" y="1083">Shared mobility services</text></g>
<g id="n-uin" class="nd"><circle cx="880" cy="1114" r="9"/><text class="s" x="880" y="1114">User involvement</text></g>
<g id="n-ur" class="nd"><circle cx="746" cy="1148" r="9"/><text class="s" x="746" y="1148">User roles</text></g>
<g id="n-tu" class="nd"><circle cx="387" cy="1122" r="9"/><text class="s" x="387" y="1122">Time use</text></g>
<g id="n-ntc" class="nd"><circle cx="183" cy="1154" r="9"/><text class="s" x="183" y="1154">Neighborhood telecommuting center</text></g>
<g id="n-ict" class="nd"><circle cx="320" cy="1190" r="9"/><text class="s" x="320" y="1190">Information and communication technology</text></g>
<g id="n-tel" class="nd"><circle cx="492" cy="1226" r="9"/><text class="s" x="492" y="1226">Telecommuting</text></g>
<g id="n-ec" class="nd"><circle cx="178" cy="1250" r="9"/><text class="s" x="178" y="1250">Energy consumption</text></g>
<g id="n-ll" class="nd"><circle cx="368" cy="1286" r="9"/><text class="s" x="368" y="1286">Living lab</text></g>
<g id="n-dv" class="nd"><circle cx="1236" cy="1057" r="9"/><text class="s" x="1236" y="1057">driverless vehicle</text></g>
<g id="n-sef2" class="nd"><circle cx="1439" cy="1087" r="9"/><text class="s" x="1439" y="1087">societal effects</text></g>
<g id="n-at" class="nd"><circle cx="1173" cy="1114" r="9"/><text class="s" x="1173" y="1114">autonomous taxi</text></g>
<g id="n-ts" class="nd"><circle cx="1462" cy="1135" r="9"/><text class="s" x="1462" y="1135">traffic simulation</text></g>
<g id="n-ms" class="nd"><circle cx="1069" cy="1146" r="9"/><text class="s" x="1069" y="1146">Market segmentation</text></g>
<g id="n-wtp" class="nd"><circle cx="1211" cy="1197" r="9"/><text class="s" x="1211" y="1197">Willingness-to-pay model</text></g>
<g id="n-dr" class="nd"><circle cx="1024" cy="1231" r="9"/><text class="s" x="1024" y="1231">Demand responsive</text></g>
<g id="n-savs" class="nd"><circle cx="1246" cy="1263" r="9"/><text class="s" x="1246" y="1263">Shared automated vehicle service</text></g>
<g id="n-cr" class="nd"><circle cx="746" cy="1316" r="9"/><text class="s" x="746" y="1316">Car rental</text></g>
<g id="n-tmc" class="nd"><circle cx="564" cy="1348" r="9"/><text class="s" x="564" y="1348">Transtheoretical model of change</text></g>
<g id="n-eva" class="nd"><circle cx="658" cy="1384" r="9"/><text class="s" x="658" y="1384">Electric vehicle adoption</text></g>
<g id="n-pmt" class="nd"><circle cx="833" cy="1418" r="9"/><text class="s" x="833" y="1418">Protection motivation theory</text></g>
<g id="n-ev" class="nd"><circle cx="446" cy="1487" r="9"/><text class="s" x="446" y="1487">Electric vehicle</text></g>
<g id="n-tco" class="nd"><circle cx="458" cy="1530" r="9"/><text class="s" x="458" y="1530">Total Cost of Ownership</text></g>
<g id="n-tsh" class="nd"><circle cx="720" cy="1496" r="9"/><text class="s" x="720" y="1496">taxi stakeholders</text></g>
<g id="n-tx" class="nd"><circle cx="698" cy="1553" r="9"/><text class="s" x="698" y="1553">taxi</text></g>
<g id="n-cst" class="nd"><circle cx="562" cy="1570" r="9"/><text class="s" x="562" y="1570">case study</text></g>
<g id="n-pq" class="nd"><circle cx="965" cy="1553" r="9"/><text class="s" x="965" y="1553">perceived quality</text></g>
<g id="n-it" class="nd"><circle cx="910" cy="1620" r="9"/><text class="s" x="910" y="1620">integrated ticketing</text></g>
<g id="n-us" class="nd"><circle cx="885" cy="1690" r="9"/><text class="s" x="885" y="1690">user satisfaction</text></g>
<g id="n-rs" class="nd"><circle cx="1048" cy="1657" r="9"/><text class="s" x="1048" y="1657">ridership</text></g>
<g id="n-ptp" class="nd"><circle cx="1087" cy="1721" r="9"/><text class="s" x="1087" y="1721">public transport patronage</text></g>
<g id="n-tk" class="nd"><circle cx="1188" cy="1526" r="9"/><text class="s" x="1188" y="1526">ticketing</text></g>
<g id="n-att" class="nd"><circle cx="1310" cy="1558" r="9"/><text class="s" x="1310" y="1558">Attitudes</text></g>
<g id="n-fco" class="nd"><circle cx="1178" cy="1588" r="9"/><text class="s" x="1178" y="1588">fare collection</text></g>
<g id="n-fv" class="nd"><circle cx="1430" cy="1613" r="9"/><text class="s" x="1430" y="1613">fare verification</text></g>
<g id="n-cv" class="nd"><circle cx="1228" cy="1642" r="9"/><text class="s" x="1228" y="1642">convenience</text></g>
<g id="n-tb" class="nd"><circle cx="1649" cy="1291" r="9"/><text class="s" x="1649" y="1291">traveller behaviour</text></g>
<g id="n-adc" class="nd"><circle cx="1501" cy="1349" r="9"/><text class="s" x="1501" y="1349">automated data collection</text></g>
<g id="n-pod" class="nd"><circle cx="1833" cy="1323" r="9"/><text class="s" x="1833" y="1323">position data</text></g>
<g id="n-tn" class="nd"><circle cx="1713" cy="1378" r="9"/><text class="s" x="1713" y="1378">traveller needs</text></g>
<g id="n-bd" class="nd"><circle cx="1589" cy="1410" r="9"/><text class="s" x="1589" y="1410">biometric data</text></g>
<g id="n-be" class="nd"><circle cx="1874" cy="1407" r="9"/><text class="s" x="1874" y="1407">built environment</text></g>
<g id="n-up" class="nd"><circle cx="1755" cy="1443" r="9"/><text class="s" x="1755" y="1443">urban planning</text></g>
</g>
</svg>
